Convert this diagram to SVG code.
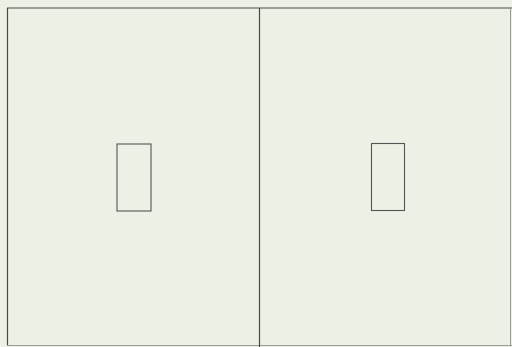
<svg xmlns="http://www.w3.org/2000/svg" width="512" height="347" viewBox="0 0 512 347">
<style>
.ln{stroke:#4a4a4a;stroke-width:1.2;fill:none}
.lt{stroke:#9a9a96;stroke-width:1;fill:none}
.box{fill:none;stroke:#555;stroke-width:1.1}
</style>
<rect x="0" y="0" width="512" height="347" fill="#edf0e4"/>
<g id="frame">
<line class="ln" x1="7" y1="8" x2="512" y2="8"/>
<line class="ln" x1="7.5" y1="8" x2="7.5" y2="345"/>
<line class="lt" x1="510.5" y1="8" x2="510.5" y2="345"/>
<line class="lt" x1="7" y1="345.5" x2="512" y2="345.5"/>
<line class="ln" x1="259.5" y1="8" x2="259.5" y2="347"/>
</g>
<g id="left-window"><rect class="box" x="117" y="144" width="34" height="67"/></g>
<g id="right-window"><rect class="box" x="371.5" y="143.5" width="33" height="67"/></g>
<g id="connectors"></g>
</svg>
